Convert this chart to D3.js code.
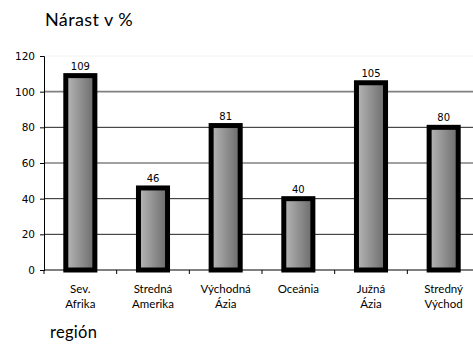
<!DOCTYPE html>
<html>
<head>
<meta charset="utf-8">
<script src="https://cdn.jsdelivr.net/npm/d3@7"></script>
<style>
  html, body { margin: 0; padding: 0; background: #fff; }
  svg { display: block; }
</style>
</head>
<body>
<script>
// Growth by region, in percent
const regions = [["Sev.", "Afrika"], ["Stredná", "Amerika"], ["Východná", "Ázia"], ["Oceánia"], ["Južná", "Ázia"], ["Stredný", "Východ"]];
const growth = [109, 46, 81, 40, 105, 80];
const yTicks = [0, 20, 40, 60, 80, 100, 120];

const W = 473, H = 348;
const margin = { left: 44, top: 56, right: -7, bottom: 78 };

const svg = d3.select("body").append("svg").attr("width", W).attr("height", H);

const defs = svg.append("defs");
const grad = defs.append("linearGradient").attr("id", "barFill")
  .attr("x1", "0%").attr("x2", "100%").attr("y1", "0%").attr("y2", "0%");
grad.append("stop").attr("offset", "0%").attr("stop-color", "#b8b8b8");
grad.append("stop").attr("offset", "100%").attr("stop-color", "#6a6a6a");

const x = d3.scaleBand().domain(d3.range(regions.length))
  .range([margin.left, W - margin.right]).paddingInner(0).paddingOuter(0);
const y = d3.scaleLinear().domain([0, 120]).range([H - margin.bottom, margin.top]);

// horizontal gridlines
svg.append("g").selectAll("line").data(yTicks.filter(d => d > 0)).join("line")
  .attr("x1", margin.left).attr("x2", W)
  .attr("y1", d => y(d)).attr("y2", d => y(d))
  .attr("stroke", d => d === 120 ? "#f2f2f2" : (d === 100 || d === 60 ? "#808080" : "#222"))
  .attr("stroke-width", d => (d === 100 || d === 60) ? 1.6 : 1);

// y axis
const yAxis = svg.append("g").attr("transform", `translate(${margin.left},0)`)
  .call(d3.axisLeft(y).tickValues(yTicks).tickSize(4).tickPadding(5));
yAxis.select(".domain").attr("stroke", "#000");
yAxis.selectAll("line").attr("stroke", "#000");
yAxis.selectAll("text").attr("font-family", "DejaVu Sans, sans-serif").attr("font-size", 10.5).attr("fill", "#000");

// x axis line and ticks at band boundaries
const x0 = y(0);
svg.append("line").attr("x1", margin.left).attr("x2", W).attr("y1", x0).attr("y2", x0).attr("stroke", "#000");
svg.append("g").selectAll("line").data(d3.range(regions.length + 1)).join("line")
  .attr("x1", i => margin.left + i * x.bandwidth()).attr("x2", i => margin.left + i * x.bandwidth())
  .attr("y1", x0).attr("y2", x0 + 4).attr("stroke", "#000");

// bars
const bw = x.bandwidth() * 0.4;
svg.append("g").selectAll("rect").data(growth).join("rect")
  .attr("x", (d, i) => x(i) + x.bandwidth() / 2 - bw / 2)
  .attr("y", d => y(d))
  .attr("width", bw)
  .attr("height", d => y(0) - y(d))
  .attr("fill", "url(#barFill)")
  .attr("stroke", "#000")
  .attr("stroke-width", 5);

// value labels
svg.append("g").selectAll("text").data(growth).join("text")
  .attr("x", (d, i) => x(i) + x.bandwidth() / 2)
  .attr("y", d => y(d) - 6)
  .attr("text-anchor", "middle")
  .attr("font-family", "DejaVu Sans, sans-serif").attr("font-size", 10)
  .text(d => d);

// category labels
const cat = svg.append("g").selectAll("text").data(regions).join("text")
  .attr("x", (d, i) => x(i) + x.bandwidth() / 2)
  .attr("y", x0 + 23)
  .attr("text-anchor", "middle")
  .attr("font-family", "Lato, sans-serif").attr("font-size", 11.5);
cat.selectAll("tspan").data((d, i) => d.map(t => ({ t, i }))).join("tspan")
  .attr("x", d => x(d.i) + x.bandwidth() / 2)
  .attr("dy", (d, j) => j === 0 ? 0 : 15)
  .text(d => d.t);

// titles
svg.append("text").attr("x", 45).attr("y", 26)
  .attr("font-family", "Lato, sans-serif").attr("font-size", 18).attr("letter-spacing", 0.4).text("Nárast v %");
svg.append("text").attr("x", 50).attr("y", 338)
  .attr("font-family", "Lato, sans-serif").attr("font-size", 16.5).attr("letter-spacing", 0.3).text("región");
</script>
</body>
</html>
